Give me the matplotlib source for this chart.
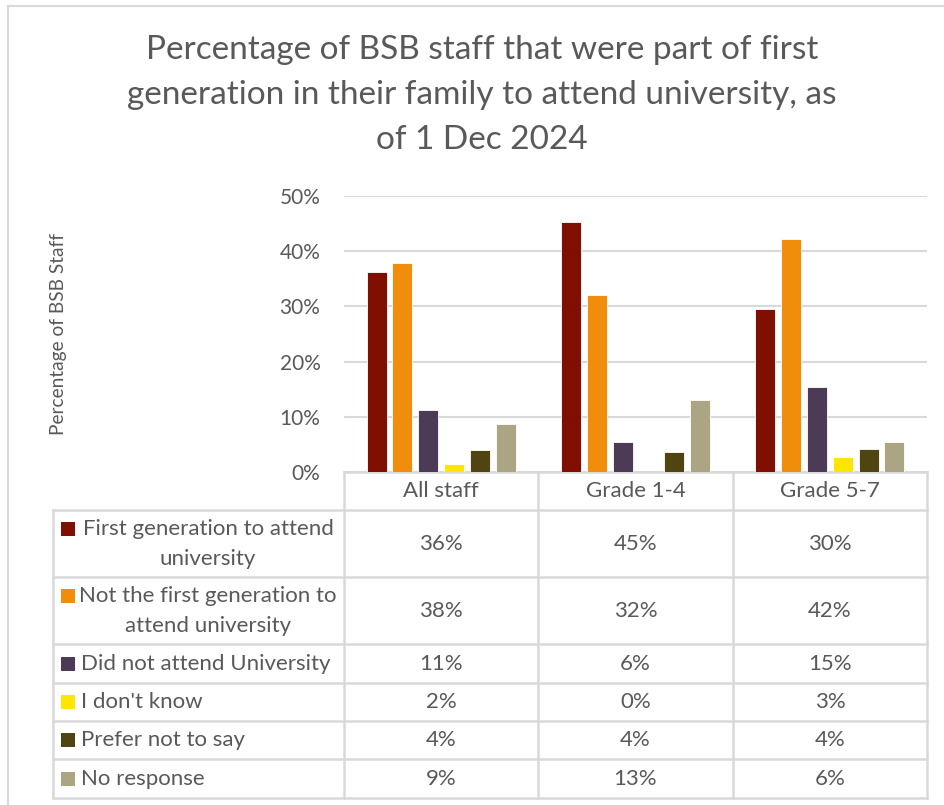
import matplotlib.pyplot as plt
from matplotlib.patches import Rectangle
import numpy as np

plt.rcParams["font.family"] = ["Lato", "DejaVu Sans"]

categories = ["All staff", "Grade 1-4", "Grade 5-7"]
series_labels = [
    "First generation to attend\nuniversity",
    "Not the first generation to\nattend university",
    "Did not attend University",
    "I don't know",
    "Prefer not to say",
    "No response",
]
# bar heights (fractions)
first_gen = [0.362, 0.452, 0.295]
not_first_gen = [0.378, 0.320, 0.422]
did_not_attend = [0.112, 0.055, 0.154]
dont_know = [0.015, 0.0, 0.027]
prefer_not = [0.039, 0.036, 0.042]
no_response = [0.087, 0.130, 0.054]
# values printed in the data table
table_values = [
    ["36%", "45%", "30%"],
    ["38%", "32%", "42%"],
    ["11%", "6%", "15%"],
    ["2%", "0%", "3%"],
    ["4%", "4%", "4%"],
    ["9%", "13%", "6%"],
]
colors = ["#7f0f00", "#f08d0a", "#4c3a56", "#ffe500", "#504510", "#aca583"]

W, H = 944, 805
TXT = "#595959"
LINE = "#d9d9d9"

fig = plt.figure(figsize=(W / 100, H / 100), dpi=100)

# overlay in pixel coordinates for title, table and frame
ov = fig.add_axes([0, 0, 1, 1])
ov.set_xlim(0, W)
ov.set_ylim(H, 0)
ov.axis("off")

# chart border (left/top visible)
ov.plot([8, 8], [6, H], color=LINE, lw=1.5)
ov.plot([8, W], [6, 6], color=LINE, lw=1.5)

title_lines = [
    "Percentage of BSB staff that were part of first",
    "generation in their family to attend university, as",
    "of 1 Dec 2024",
]
for i, line in enumerate(title_lines):
    ov.text(482, 50 + 45 * i, line, ha="center", va="center", fontsize=24, color=TXT)

# bar chart
left, right, top, bottom = 344, 927, 196, 472
ax = fig.add_axes([left / W, 1 - bottom / H, (right - left) / W, (bottom - top) / H])
x = np.arange(len(categories))
pitch = 0.1328
width = 0.103
all_series = [first_gen, not_first_gen, did_not_attend, dont_know, prefer_not, no_response]
for i, (vals, c) in enumerate(zip(all_series, colors)):
    ax.bar(x + (i - 2.5) * pitch, vals, width=width, color=c, edgecolor="white", linewidth=0.6, zorder=3)
ax.set_xlim(-0.5, 2.5)
ax.set_ylim(0, 0.5)
ax.set_yticks(np.arange(0, 0.51, 0.1))
ax.set_yticklabels([f"{int(round(v * 100))}%" for v in np.arange(0, 0.51, 0.1)], fontsize=15, color=TXT)
ax.tick_params(axis="y", length=0, pad=17)
ax.set_xticks([])
ax.grid(axis="y", color=LINE, lw=1.5, zorder=0)
for s in ax.spines.values():
    s.set_visible(False)
ax.set_ylabel("Percentage of BSB Staff", fontsize=13.8, color=TXT, labelpad=0)
ax.yaxis.set_label_coords((67 - left) / (right - left), (bottom - 334) / (bottom - top))

# data table
col_edges = [left, 538, 733, right]
row_edges = [510, 577, 644, 683, 721, 759, 798]
tab_left = 53
lw = 1.8
ov.plot([left, right], [472, 472], color=LINE, lw=lw)
for xe in col_edges:
    ov.plot([xe, xe], [472, row_edges[-1]], color=LINE, lw=lw)
ov.plot([tab_left, tab_left], [row_edges[0], row_edges[-1]], color=LINE, lw=lw)
for ye in row_edges:
    ov.plot([tab_left, right], [ye, ye], color=LINE, lw=lw)

fs = 16
col_centers = [(a + b) / 2 for a, b in zip(col_edges[:-1], col_edges[1:])]
for cx, cat in zip(col_centers, categories):
    ov.text(cx, 491, cat, ha="center", va="center", fontsize=fs, color=TXT)

for r, (lab, c) in enumerate(zip(series_labels, colors)):
    y0, y1 = row_edges[r], row_edges[r + 1]
    yc = (y0 + y1) / 2
    if "\n" in lab:
        l1, l2 = lab.split("\n")
        ov.text(208, yc - 15, l1, ha="center", va="center", fontsize=fs, color=TXT)
        ov.text(208, yc + 15, l2, ha="center", va="center", fontsize=fs, color=TXT)
        ky = yc - 15
    else:
        ov.text(81, yc, lab, ha="left", va="center", fontsize=fs, color=TXT)
        ky = yc
    ov.add_patch(Rectangle((61, ky - 7), 14, 14, color=c, lw=0))
    for cx, v in zip(col_centers, table_values[r]):
        ov.text(cx, yc, v, ha="center", va="center", fontsize=fs, color=TXT)

fig.savefig("out.png", dpi=100)
